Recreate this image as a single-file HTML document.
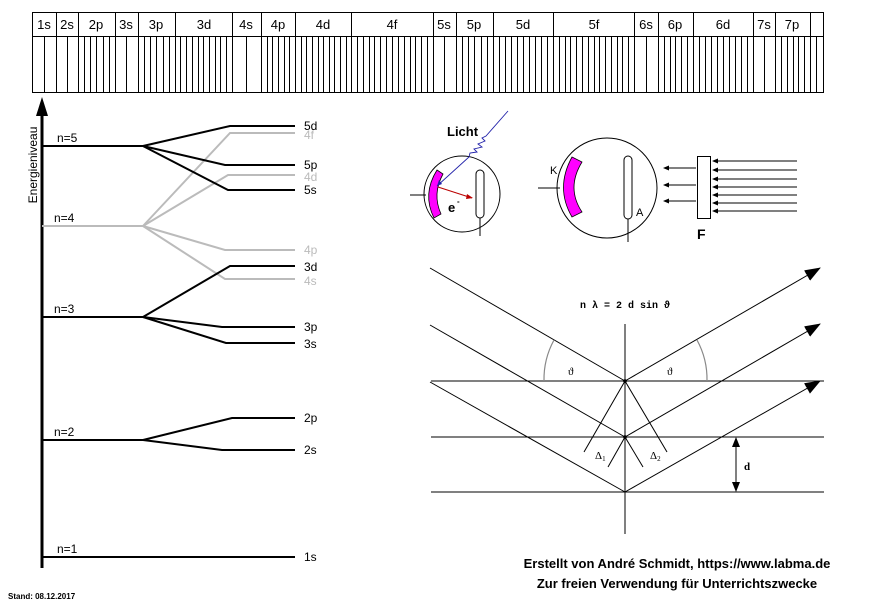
<!DOCTYPE html>
<html><head><meta charset="utf-8"><style>
html,body{margin:0;padding:0;background:#fff;}
svg{display:block;font-family:"Liberation Sans",sans-serif;}
</style></head><body>
<svg width="872" height="613" viewBox="0 0 872 613" xmlns="http://www.w3.org/2000/svg">
<defs>
<pattern id="s2a" patternUnits="userSpaceOnUse" x="0" y="0" width="1" height="1"><rect width="1" height="1" fill="#fff"/></pattern>
<marker id="ah" markerWidth="10" markerHeight="8" refX="9" refY="4" orient="auto" markerUnits="userSpaceOnUse"><path d="M0,0 L10,4 L0,8 z" fill="#000"/></marker>
<marker id="sah" markerWidth="6" markerHeight="5" refX="5" refY="2.5" orient="auto" markerUnits="userSpaceOnUse"><path d="M0,0 L6,2.5 L0,5 z" fill="#000"/></marker>
<marker id="bah" markerWidth="16" markerHeight="12" refX="15" refY="6" orient="auto" markerUnits="userSpaceOnUse"><path d="M0,0 L16,6 L0,12 z" fill="#000"/></marker>
</defs>

<!-- Table -->
<g stroke="#000" stroke-width="1" fill="none">
<rect x="32.5" y="12.5" width="791" height="80"/>
<line x1="32" y1="36.5" x2="824" y2="36.5"/>
</g>
<g stroke="#000" stroke-width="1" id="tbl"></g>
<g stroke="#000" stroke-width="1">
<!-- group borders full height -->
<path d="M56.5 12V92M78.5 12V92M115.5 12V92M138.5 12V92M175.5 12V92M232.5 12V92M261.5 12V92M295.5 12V92M351.5 12V92M433.5 12V92M456.5 12V92M493.5 12V92M553.5 12V92M634.5 12V92M658.5 12V92M693.5 12V92M753.5 12V92M775.5 12V92M810.5 12V92"/>
<!-- sub slots -->
<path d="
M44.5 36V92 M67.5 36V92
M84.5 36V92 M90.5 36V92 M96.5 36V92 M103.5 36V92 M109.5 36V92
M126.5 36V92
M144.5 36V92 M150.5 36V92 M156.5 36V92 M163.5 36V92 M169.5 36V92
M180.5 36V92 M186.5 36V92 M192.5 36V92 M198.5 36V92 M203.5 36V92 M209.5 36V92 M215.5 36V92 M220.5 36V92 M226.5 36V92
M246.5 36V92
M267.5 36V92 M272.5 36V92 M278.5 36V92 M284.5 36V92 M289.5 36V92
M301.5 36V92 M306.5 36V92 M312.5 36V92 M318.5 36V92 M323.5 36V92 M329.5 36V92 M334.5 36V92 M340.5 36V92 M346.5 36V92
M357.5 36V92 M363.5 36V92 M369.5 36V92 M374.5 36V92 M380.5 36V92 M386.5 36V92 M392.5 36V92 M398.5 36V92 M404.5 36V92 M410.5 36V92 M415.5 36V92 M421.5 36V92 M427.5 36V92
M444.5 36V92
M462.5 36V92 M468.5 36V92 M474.5 36V92 M481.5 36V92 M487.5 36V92
M499.5 36V92 M505.5 36V92 M511.5 36V92 M517.5 36V92 M523.5 36V92 M529.5 36V92 M535.5 36V92 M541.5 36V92 M547.5 36V92
M559.5 36V92 M565.5 36V92 M570.5 36V92 M576.5 36V92 M582.5 36V92 M588.5 36V92 M594.5 36V92 M599.5 36V92 M605.5 36V92 M611.5 36V92 M617.5 36V92 M622.5 36V92 M628.5 36V92
M646.5 36V92
M664.5 36V92 M670.5 36V92 M675.5 36V92 M681.5 36V92 M687.5 36V92
M699.5 36V92 M705.5 36V92 M711.5 36V92 M717.5 36V92 M723.5 36V92 M729.5 36V92 M735.5 36V92 M741.5 36V92 M747.5 36V92
M764.5 36V92
M781.5 36V92 M787.5 36V92 M793.5 36V92 M798.5 36V92 M804.5 36V92
M816.5 36V92"/>
</g>
<g font-size="13" text-anchor="middle" fill="#000">
<text x="44" y="29">1s</text><text x="67" y="29">2s</text><text x="96" y="29">2p</text><text x="126" y="29">3s</text><text x="156" y="29">3p</text><text x="204" y="29">3d</text><text x="246" y="29">4s</text><text x="278" y="29">4p</text><text x="323" y="29">4d</text><text x="392" y="29">4f</text><text x="444" y="29">5s</text><text x="474" y="29">5p</text><text x="523" y="29">5d</text><text x="594" y="29">5f</text><text x="646" y="29">6s</text><text x="675" y="29">6p</text><text x="723" y="29">6d</text><text x="764" y="29">7s</text><text x="792" y="29">7p</text>
</g>

<!-- Energy diagram -->
<line x1="42" y1="110" x2="42" y2="568" stroke="#000" stroke-width="3"/>
<path d="M42 97 L36 116 L48 116 z" fill="#000"/>
<text transform="translate(37,165) rotate(-90)" font-size="12" text-anchor="middle">Energieniveau</text>
<g stroke="#bbb" stroke-width="2" fill="none">
<polyline points="42,226 143,226"/>
<polyline points="143,226 230,133 295,133"/>
<polyline points="143,226 228,175 295,175"/>
<polyline points="143,226 225,250 295,250"/>
<polyline points="143,226 225,279 295,279"/>
</g>
<g stroke="#000" stroke-width="2" fill="none">
<polyline points="42,146 143,146"/>
<polyline points="143,146 230,126 295,126"/>
<polyline points="143,146 225,165 295,165"/>
<polyline points="143,146 228,190 295,190"/>
<polyline points="42,317 143,317"/>
<polyline points="143,317 230,266 295,266"/>
<polyline points="143,317 222,327 295,327"/>
<polyline points="143,317 226,343 295,343"/>
<polyline points="42,440 143,440"/>
<polyline points="143,440 232,418 295,418"/>
<polyline points="143,440 222,450 295,450"/>
<polyline points="42,557 295,557"/>
</g>
<g font-size="12">
<text x="57" y="142">n=5</text><text x="54" y="222">n=4</text><text x="54" y="313">n=3</text><text x="54" y="436">n=2</text><text x="57" y="553">n=1</text>
<text x="304" y="130">5d</text><text x="304" y="139" fill="#bbb">4f</text><text x="304" y="169">5p</text><text x="304" y="181" fill="#bbb">4d</text><text x="304" y="194">5s</text>
<text x="304" y="254" fill="#bbb">4p</text><text x="304" y="271">3d</text><text x="304" y="285" fill="#bbb">4s</text>
<text x="304" y="331">3p</text><text x="304" y="348">3s</text><text x="304" y="422">2p</text><text x="304" y="454">2s</text><text x="304" y="561">1s</text>
</g>
<text x="8" y="599" font-size="8" font-weight="bold">Stand: 08.12.2017</text>

<!-- Photo cell left -->
<circle cx="462" cy="194" r="38" fill="none" stroke="#000"/>
<path d="M437,170 L443,174 Q432,194 441,214 L434,218 Q422,194 437,170 z" fill="#f0f" stroke="#000" stroke-width="0.8"/>
<line x1="410" y1="195" x2="426" y2="195" stroke="#000"/>
<rect x="476" y="170" width="8" height="48" rx="4" fill="#fff" stroke="#000"/>
<line x1="480" y1="218" x2="480" y2="236" stroke="#000"/>
<path d="M508,111 L486,136 L482,138 L485,141 L478,144 L482,147 L474,149 L477,152 L470,153 L469,157 L437,186" fill="none" stroke="#22a" stroke-width="0.9"/>
<path d="M437,186 l2,-6 l3,4 z" fill="#22a"/>
<line x1="438" y1="187" x2="472" y2="198" stroke="#b00" stroke-width="1"/>
<path d="M473,198 l-6,-4 l-1,5 z" fill="#b00"/>
<text x="447" y="136" font-size="13" font-weight="bold">Licht</text>
<text x="448" y="212" font-size="13" font-weight="bold">e</text><text x="457" y="204" font-size="8" font-weight="bold">-</text>

<!-- Photo cell right -->
<circle cx="607" cy="188" r="50" fill="none" stroke="#000"/>
<path d="M572,157 L582,162 Q566,188 582,212 L572,217 Q555,188 572,157 z" fill="#f0f" stroke="#000" stroke-width="0.8"/>
<line x1="538" y1="188" x2="560" y2="188" stroke="#000"/>
<rect x="624" y="156" width="8" height="63" rx="4" fill="#fff" stroke="#000"/>
<line x1="628" y1="219" x2="628" y2="242" stroke="#000"/>
<text x="550" y="174" font-size="11">K</text>
<text x="636" y="216" font-size="11">A</text>
<rect x="697.5" y="156.5" width="13" height="62" fill="#fff" stroke="#000"/>
<text x="697" y="239" font-size="14" font-weight="bold">F</text>
<g stroke="#000" stroke-width="1" marker-end="url(#sah)">
<line x1="696" y1="168" x2="664" y2="168"/><line x1="696" y1="185" x2="664" y2="185"/><line x1="696" y1="201" x2="664" y2="201"/>
<line x1="797" y1="161" x2="713" y2="161"/><line x1="797" y1="170" x2="713" y2="170"/><line x1="797" y1="179" x2="713" y2="179"/><line x1="797" y1="187" x2="713" y2="187"/><line x1="797" y1="195" x2="713" y2="195"/><line x1="797" y1="203" x2="713" y2="203"/><line x1="797" y1="211" x2="713" y2="211"/>
</g>

<!-- Bragg -->
<g stroke="#000" stroke-width="1" fill="none">
<line x1="431" y1="381" x2="824" y2="381"/>
<line x1="431" y1="437" x2="824" y2="437"/>
<line x1="431" y1="492" x2="824" y2="492"/>
<line x1="625" y1="324" x2="625" y2="534"/>
<line x1="430" y1="268" x2="625" y2="381"/>
<line x1="430" y1="325" x2="625" y2="437"/>
<line x1="430" y1="382" x2="625" y2="492"/>
<line x1="625" y1="381" x2="820" y2="268" marker-end="url(#bah)"/>
<line x1="625" y1="437" x2="820" y2="324" marker-end="url(#bah)"/>
<line x1="625" y1="492" x2="820" y2="381" marker-end="url(#bah)"/>
<line x1="625" y1="381" x2="584" y2="452"/><line x1="625" y1="381" x2="667" y2="452"/>
<line x1="625" y1="437" x2="608" y2="467"/><line x1="625" y1="437" x2="643" y2="467"/>
<line x1="736" y1="440" x2="736" y2="489"/>
</g>
<path d="M736,437 l-4,10 h8 z M736,492 l-4,-10 h8 z" fill="#000"/>
<g stroke="#888" stroke-width="1.2" fill="none">
<path d="M544,381 A82,82 0 0 1 554,340"/>
<path d="M707,381 A82,82 0 0 0 697,340"/>
</g>
<circle cx="625" cy="381" r="1.8" fill="#000"/><circle cx="625" cy="437" r="1.8" fill="#000"/>
<g font-family="Liberation Serif,serif" font-size="11">
<text x="568" y="375">ϑ</text><text x="667" y="375">ϑ</text>
<text x="595" y="459">Δ<tspan font-size="7" dy="2">1</tspan></text>
<text x="650" y="459">Δ<tspan font-size="7" dy="2">2</tspan></text>
<text x="744" y="470" font-weight="bold">d</text>
</g>
<text x="625" y="308" font-family="Liberation Mono,monospace" font-size="10" font-weight="bold" text-anchor="middle">n λ = 2 d sin ϑ</text>

<g font-size="13" font-weight="bold" text-anchor="middle">
<text x="677" y="568">Erstellt von André Schmidt, https://www.labma.de</text>
<text x="677" y="588">Zur freien Verwendung für Unterrichtszwecke</text>
</g>
</svg>
</body></html>
